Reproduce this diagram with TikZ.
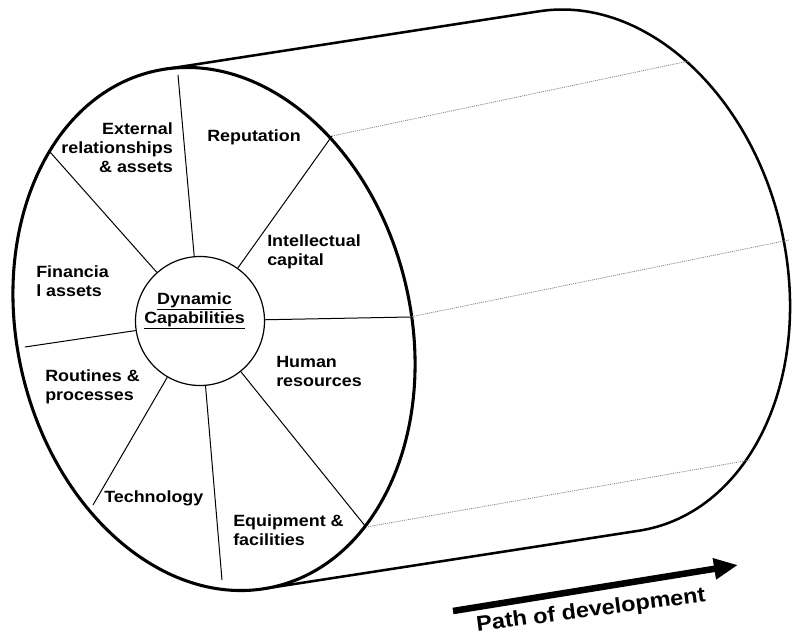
\documentclass[tikz,border=0pt]{standalone}
\usepackage{fontspec}
\setmainfont{Liberation Sans}[FakeStretch=1.1]
\usetikzlibrary{arrows.meta}
\begin{document}
\begin{tikzpicture}[x=0.75pt, y=0.75pt,
  lbl/.style={font=\fontsize{12.2}{14.3}\selectfont\bfseries, inner sep=0pt},
  rimline/.style={line width=2.3pt, line join=round},
  tubeline/.style={line width=1.9pt, line join=round},
  spoke/.style={line width=0.75pt},
  trail/.style={line width=0.6pt, gray, dash pattern=on 0.8pt off 0.8pt},
  hub/.style={draw, circle, line width=0.9pt, minimum size=96.75pt, inner sep=0pt, fill=white}]
\useasboundingbox (0,0) rectangle (795,-638);

% back face: only the visible right half, plus its tangent points
% (semi-axes 196.8 and 264.7, tilted by 13.4 degrees)
\begin{scope}[shift={(589,-271)}, rotate=13.4]
  \coordinate (bt) at ({196.8*cos(86.4)},{264.7*sin(86.4)});
  \coordinate (bb) at ({196.8*cos(-93.6)},{264.7*sin(-93.6)});
  \draw[tubeline] (bt) arc[start angle=86.4, end angle=-93.6, x radius=196.8, y radius=264.7];
\end{scope}

% front face tangent points
\begin{scope}[shift={(214,-329)}, rotate=13.4]
  \coordinate (ft) at ({196.8*cos(86.4)},{264.7*sin(86.4)});
  \coordinate (fb) at ({196.8*cos(-93.6)},{264.7*sin(-93.6)});
\end{scope}

% silhouette lines of the cylinder
\draw[tubeline] (ft) -- (bt);
\draw[tubeline] (fb) -- (bb);

% front face
\begin{scope}[shift={(214,-329)}, rotate=13.4]
  \draw[rimline, fill=white] (0,0) ellipse [x radius=196.8, y radius=264.7];
\end{scope}

% outer ends of the dividers on the rim
\coordinate (s1) at (178,-75);
\coordinate (s2) at (332,-136);
\coordinate (s3) at (410,-317);
\coordinate (s4) at (366,-527);
\coordinate (s5) at (222,-580);
\coordinate (s6) at (93,-505);
\coordinate (s7) at (25,-347);
\coordinate (s8) at (50,-152);

% ends of the trails on the back face
\coordinate (e2) at (689,-61);
\coordinate (e3) at (789,-240);
\coordinate (e4) at (750,-460);

\draw[trail] (s2) -- (e2);
\draw[trail] (s3) -- (e3);
\draw[trail] (s4) -- (e4);

% hub
\node[hub] (dc) at (200,-321) {};
\foreach \s in {s1,s2,s3,s4,s5,s6,s7,s8}
  \draw[spoke] (dc) -- (\s);

\node[lbl, align=center] (dctext) at (194.5,-311) {\underline{Dynamic}\\\underline{Capabilities}};

% segment labels
\node[lbl, align=right, anchor=east] (ext) at (173,-148) {External\\relationships\\\& assets};
\node[lbl] (rep) at (254,-137) {Reputation};
\node[lbl, align=left, anchor=west] (intel) at (267,-251.5) {Intellectual\\capital};
\node[lbl, align=left, anchor=west] (fin) at (36,-281.5) {Financia\\l assets};
\node[lbl, align=left, anchor=west] (hum) at (276,-371.5) {Human\\resources};
\node[lbl, align=left, anchor=west] (rout) at (45,-387) {Routines \&\\processes};
\node[lbl, align=left, anchor=west] (tech) at (104,-498) {Technology};
\node[lbl, align=left, anchor=west] (equip) at (233,-530) {Equipment \&\\facilities};

% direction arrow
\coordinate (pa) at (453,-611);
\coordinate (pb) at (738,-565);
\draw[line width=4.9pt, -{Triangle[length=18pt, width=15pt]}] (pa) -- (pb);
\node[font=\fontsize{16}{18}\selectfont\bfseries, rotate=7.5, inner sep=0pt] (path) at (591,-611) {Path of development};
\end{tikzpicture}
\end{document}
